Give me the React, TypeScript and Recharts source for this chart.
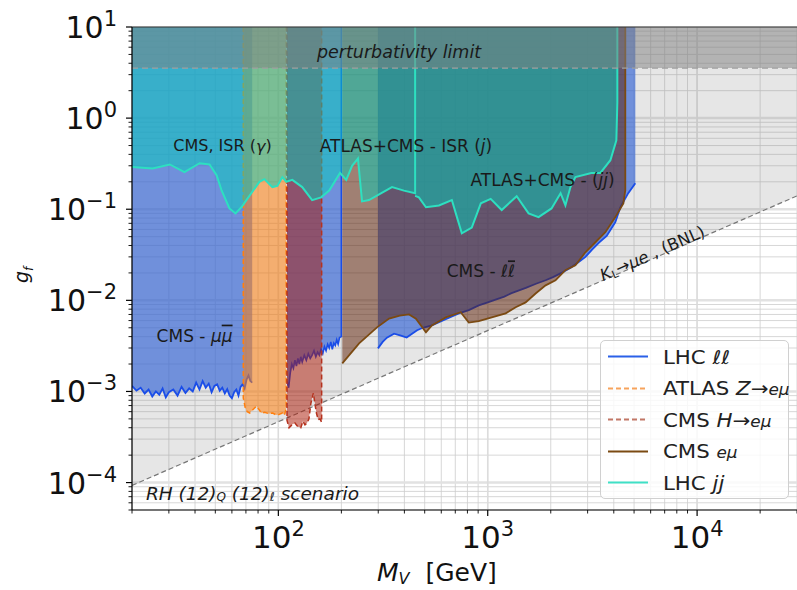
import React from 'react';
import {
  ComposedChart,
  Area,
  Line,
  XAxis,
  YAxis,
  CartesianGrid,
  ReferenceArea,
  ReferenceLine,
  ReferenceDot,
} from 'recharts';

const TOP = 10;
const PERT = 3.54;

const xTicks = [20, 30, 40, 50, 60, 70, 80, 90, 100, 200, 300, 400, 500, 600, 700, 800, 900, 1000, 2000, 3000, 4000, 5000, 6000, 7000, 8000, 9000, 10000, 20000, 30000];
const yTicks = [5e-5, 6e-5, 7e-5, 8e-5, 9e-5, 1e-4, 2e-4, 3e-4, 4e-4, 5e-4, 6e-4, 7e-4, 8e-4, 9e-4, 1e-3, 2e-3, 3e-3, 4e-3, 5e-3, 6e-3, 7e-3, 8e-3, 9e-3, 0.01, 0.02, 0.03, 0.04, 0.05, 0.06, 0.07, 0.08, 0.09, 0.1, 0.2, 0.3, 0.4, 0.5, 0.6, 0.7, 0.8, 0.9, 1, 2, 3, 4, 5, 6, 7, 8, 9, 10];
const majorX = [100, 1000, 10000];
const majorY = [1e-4, 1e-3, 1e-2, 0.1, 1];

// K_L -> mu e (BNL) line
const bnlMass = [20, 30000];
const bnlG = [9.3e-5, 0.14];

// LHC ll : CMS mu mu low mass
const muMass = [20, 21, 22, 23, 24, 25, 26, 27, 28, 29, 30, 31.5, 33, 34.5, 36, 37.5, 39, 40.5, 42, 43.5, 45, 46.5, 48, 49.5, 51, 52.5, 54, 55.5, 57, 58.5, 60, 61.5, 63, 64.5, 66, 67.5, 69, 70.5, 72, 73.5, 75];
const muG = [1.15e-3, 1.02e-3, 1.1e-3, 0.95e-3, 1.05e-3, 0.88e-3, 1.0e-3, 0.92e-3, 1.08e-3, 0.86e-3, 0.98e-3, 1.05e-3, 0.9e-3, 1.12e-3, 0.96e-3, 1.08e-3, 1.0e-3, 1.25e-3, 1.05e-3, 1.3e-3, 1.1e-3, 1.22e-3, 0.98e-3, 1.15e-3, 1.2e-3, 1.02e-3, 1.1e-3, 0.95e-3, 1.06e-3, 0.9e-3, 0.84e-3, 0.98e-3, 1.05e-3, 0.9e-3, 1.12e-3, 1.2e-3, 1.08e-3, 1.35e-3, 1.5e-3, 1.3e-3, 1.25e-3];

// LHC ll : intermediate mass
const midMass = [110, 112, 114, 116, 118, 120, 122, 124, 126, 128, 130, 133, 136, 139, 142, 145, 148, 151, 154, 157, 160, 163, 166, 169, 172, 175, 178, 181, 184, 187, 190, 193, 196, 200];
const midG = [1.3e-3, 1.1e-3, 1.6e-3, 2.0e-3, 1.8e-3, 2.2e-3, 1.9e-3, 2.3e-3, 2.0e-3, 2.4e-3, 2.1e-3, 2.5e-3, 2.2e-3, 2.6e-3, 2.3e-3, 2.5e-3, 2.8e-3, 2.4e-3, 2.7e-3, 2.5e-3, 2.9e-3, 2.6e-3, 3.1e-3, 2.8e-3, 3.3e-3, 3.0e-3, 3.5e-3, 2.9e-3, 3.4e-3, 3.2e-3, 3.7e-3, 3.3e-3, 3.9e-3, 4.0e-3];

// LHC ll : CMS ll high mass
const llMass = [299, 315, 330, 357, 385, 410, 435, 460, 490, 541, 630, 728, 812, 906, 1000, 1090, 1200, 1300, 1400, 1520, 1700, 1890, 2050, 2250, 2500, 2700, 2930, 3150, 3400, 3700, 4070, 4300, 4690, 5070];
const llG = [2.97e-3, 3.5e-3, 3.9e-3, 4.3e-3, 4.1e-3, 3.9e-3, 4.3e-3, 4.7e-3, 5.0e-3, 5.3e-3, 6.2e-3, 7.2e-3, 7.8e-3, 8.8e-3, 9.5e-3, 1.02e-2, 1.1e-2, 1.2e-2, 1.28e-2, 1.37e-2, 1.52e-2, 1.66e-2, 1.8e-2, 2.0e-2, 2.3e-2, 2.6e-2, 3.0e-2, 3.6e-2, 4.3e-2, 5.1e-2, 7.2e-2, 0.105, 0.15, 0.193];

// ATLAS Z -> e mu
const zMass = [68, 69.5, 71, 73, 75, 78.5, 81, 83, 86, 90, 94, 98, 101, 104.5, 107, 109];
const zG = [8.5e-4, 6.6e-4, 6.0e-4, 5.8e-4, 6.2e-4, 6.9e-4, 6.3e-4, 5.8e-4, 5.9e-4, 5.7e-4, 5.8e-4, 5.5e-4, 5.6e-4, 5.8e-4, 5.5e-4, 6.5e-4];

// CMS H -> e mu
const hMass = [110, 112.5, 116, 120, 124, 128, 131, 134, 137, 140, 143, 147, 150, 152, 155, 158, 161];
const hG = [4.8e-4, 4.0e-4, 4.3e-4, 4.5e-4, 4.1e-4, 4.0e-4, 4.7e-4, 4.3e-4, 4.5e-4, 5.0e-4, 7.4e-4, 9.6e-4, 7.0e-4, 5.8e-4, 4.9e-4, 5.0e-4, 4.6e-4];

// CMS e mu
const emuMass = [202, 243, 296, 338, 380, 421, 454, 507, 541, 631, 743, 812, 906, 1045, 1218, 1360, 1517, 1693, 1890, 2107, 2350, 2623, 2928, 3268, 3646, 4070, 4445, 4540];
const emuG = [2.03e-3, 3.37e-3, 5.05e-3, 6.3e-3, 6.8e-3, 7.0e-3, 6.3e-3, 4.45e-3, 5.3e-3, 6.5e-3, 7.4e-3, 5.7e-3, 5.9e-3, 6.5e-3, 7.2e-3, 8.4e-3, 9.5e-3, 1.19e-2, 1.46e-2, 1.66e-2, 2.14e-2, 2.43e-2, 3.37e-2, 4.34e-2, 5.6e-2, 8.2e-2, 0.116, 0.162];

// LHC jj : ISR (gamma, j)
const isrMass = [20, 25.1, 30.3, 35.6, 42.1, 46.9, 50.7, 53.5, 58.4, 62.4, 66.6, 70.4, 81.2, 85.8, 93.6, 98.9, 104.5, 109.2, 116.6, 130, 145, 160, 175, 197, 211, 225, 240, 251, 271, 349, 398, 450];
const isrG = [0.29, 0.28, 0.31, 0.255, 0.32, 0.31, 0.237, 0.162, 0.102, 0.09, 0.105, 0.126, 0.2, 0.214, 0.175, 0.18, 0.225, 0.2, 0.21, 0.175, 0.126, 0.135, 0.16, 0.25, 0.21, 0.3, 0.36, 0.122, 0.126, 0.175, 0.16, 0.15];

// LHC jj : dijet
const jjMass = [450, 469, 507, 585, 674, 704, 752, 839, 927, 1033, 1166, 1375, 1567, 1749, 2017, 2228, 2350, 2484, 2623, 3126, 3452, 3854, 4115, 4160];
const jjG = [0.14, 0.135, 0.105, 0.11, 0.126, 0.09, 0.0545, 0.063, 0.116, 0.13, 0.098, 0.139, 0.09, 0.082, 0.102, 0.15, 0.11, 0.175, 0.225, 0.25, 0.25, 0.345, 0.57, 1.5];

const COL = {
  blue: '#3d6bd5',
  blueLine: '#1a4de8',
  orange: '#ff7f0e',
  red: '#aa1400',
  redLine: '#b5321e',
  brown: '#5a1a00',
  brownLine: '#7b4a12',
  teal: '#00cdb9',
  tealLine: '#2de0c0',
};

const rows = (ms: number[], gs: number[]) => ms.map((m, i) => ({ m, g: gs[i] }));
const capped = (ms: number[], gs: number[], start: boolean, end: boolean) => [
  ...(start ? [{ m: ms[0], g: TOP }] : []),
  ...rows(ms, gs),
  ...(end ? [{ m: ms[ms.length - 1], g: TOP }] : []),
];

const isMajor = (v: number) => Math.abs(Math.log10(v) - Math.round(Math.log10(v))) < 1e-6;
const expText = (v: number) => {
  const e = Math.round(Math.log10(v));
  return e < 0 ? '\u2212' + Math.abs(e) : String(e);
};

function XTick(props: any) {
  const { x, y, payload } = props;
  const v = payload.value;
  const major = isMajor(v);
  return (
    <g>
      <line x1={x} x2={x} y1={y} y2={y + (major ? 6 : 3.5)} stroke="#000" strokeWidth={major ? 1.2 : 0.9} />
      {major && (
        <text x={x} y={y + 38} textAnchor="middle" fontSize={31} fill="#111" fontFamily="DejaVu Sans">
          10<tspan dy={-12} fontSize={21}>{expText(v)}</tspan>
        </text>
      )}
    </g>
  );
}

function YTick(props: any) {
  const { x, y, payload } = props;
  const v = payload.value;
  const major = isMajor(v);
  return (
    <g>
      <line x1={x - (major ? 6 : 3.5)} x2={x} y1={y} y2={y} stroke="#000" strokeWidth={major ? 1.2 : 0.9} />
      {major && (
        <text x={x - 15} y={y + 11} textAnchor="end" fontSize={30} fill="#111" fontFamily="DejaVu Sans">
          10<tspan dy={-12} fontSize={21}>{expText(v)}</tspan>
        </text>
      )}
    </g>
  );
}

const note = (m: number, g: number, key: string, body: React.ReactNode, extra: any = {}) => (
  <ReferenceDot
    key={key}
    x={m}
    y={g}
    r={0}
    fill="none"
    stroke="none"
    ifOverflow="visible"
    label={(p: any) => {
      const vb = p.viewBox || {};
      const cx = (vb.x ?? 0) + (vb.width ?? 0) / 2;
      const cy = (vb.y ?? 0) + (vb.height ?? 0) / 2;
      return (
        <text
          x={cx}
          y={cy}
          textAnchor="middle"
          dominantBaseline="central"
          fontFamily="DejaVu Sans"
          fontSize={17}
          fill="#1a1a1a"
          transform={extra.rotate ? `rotate(${extra.rotate} ${cx} ${cy})` : undefined}
          {...(extra.style || {})}
        >
          {body}
        </text>
      );
    }}
  />
);

const legendItems = [
  { color: '#2a60e8', dash: '', label: <>LHC <i>ℓℓ</i></> },
  { color: '#f7a35c', dash: '5 3', label: <>ATLAS <i>Z</i>→<i style={{ fontSize: 15 }}>eμ</i></> },
  { color: '#c27766', dash: '5 3', label: <>CMS <i>H</i>→<i style={{ fontSize: 15 }}>eμ</i></> },
  { color: '#7b4a12', dash: '', label: <>CMS <i style={{ fontSize: 15 }}>eμ</i></> },
  { color: '#3fe0c6', dash: '', label: <>LHC <i>jj</i></> },
];

const over = { textDecoration: 'overline' };

export default function App() {
  return (
    <div style={{ position: 'absolute', left: 0, top: 0, width: 797, height: 590, overflow: 'hidden', fontFamily: 'DejaVu Sans', background: '#fff' }}>
      <ComposedChart width={797} height={590} margin={{ top: 27, right: 0, bottom: 0, left: 8 }}>
        <CartesianGrid stroke="#cdcdcd" strokeWidth={0.8} zIndex={-100} />
        {majorY.map((v) => (
          <ReferenceLine key={'gy' + v} y={v} stroke="#e2e2e2" strokeWidth={2.5} zIndex={-60} />
        ))}
        {majorX.map((v) => (
          <ReferenceLine key={'gx' + v} x={v} stroke="#dcdcdc" strokeWidth={1.5} zIndex={-60} />
        ))}
        <XAxis
          dataKey="m"
          type="number"
          scale="log"
          domain={[20, 30000]}
          allowDataOverflow
          ticks={xTicks}
          interval={0}
          height={80}
          tickSize={0}
          tickMargin={0}
          tickLine={false}
          axisLine={{ stroke: '#000', strokeWidth: 1.2 }}
          tick={(p: any) => <XTick {...p} />}
        />
        <YAxis
          dataKey="g"
          type="number"
          scale="log"
          domain={[5e-5, 10]}
          allowDataOverflow
          ticks={yTicks}
          interval={0}
          width={124}
          tickSize={0}
          tickMargin={0}
          tickLine={false}
          axisLine={{ stroke: '#000', strokeWidth: 1.2 }}
          tick={(p: any) => <YTick {...p} />}
        />

        <Area zIndex={1} data={rows(bnlMass, bnlG)} dataKey="g" baseValue={TOP} type="linear" fill="#808080" fillOpacity={0.2} stroke="none" isAnimationActive={false} />
        <Line zIndex={2} data={rows(bnlMass, bnlG)} dataKey="g" type="linear" stroke="#777" strokeWidth={1.2} strokeDasharray="5 3" dot={false} activeDot={false} isAnimationActive={false} />

        <Area zIndex={10} data={rows(muMass, muG)} dataKey="g" baseValue={TOP} type="linear" fill={COL.blue} fillOpacity={0.7} stroke="none" isAnimationActive={false} />
        <Area zIndex={10} data={rows(midMass, midG)} dataKey="g" baseValue={TOP} type="linear" fill={COL.blue} fillOpacity={0.7} stroke="none" isAnimationActive={false} />
        <Area zIndex={10} data={rows(llMass, llG)} dataKey="g" baseValue={TOP} type="linear" fill={COL.blue} fillOpacity={0.7} stroke="none" isAnimationActive={false} />
        <Line zIndex={11} data={rows(muMass, muG)} dataKey="g" type="linear" stroke={COL.blueLine} strokeWidth={1.8} dot={false} activeDot={false} isAnimationActive={false} />
        <Line zIndex={11} data={capped(midMass, midG, false, true)} dataKey="g" type="linear" stroke={COL.blueLine} strokeWidth={1.6} dot={false} activeDot={false} isAnimationActive={false} />
        <Line zIndex={11} data={rows(llMass, llG)} dataKey="g" type="linear" stroke={COL.blueLine} strokeWidth={1.8} dot={false} activeDot={false} isAnimationActive={false} />

        <Area zIndex={20} data={rows(zMass, zG)} dataKey="g" baseValue={TOP} type="linear" fill={COL.orange} fillOpacity={0.55} stroke="none" isAnimationActive={false} />
        <Line zIndex={21} data={capped(zMass, zG, true, true)} dataKey="g" type="linear" stroke={COL.orange} strokeWidth={1.5} strokeDasharray="5 3" dot={false} activeDot={false} isAnimationActive={false} />

        <Area zIndex={30} data={rows(hMass, hG)} dataKey="g" baseValue={TOP} type="linear" fill={COL.red} fillOpacity={0.5} stroke="none" isAnimationActive={false} />
        <Line zIndex={31} data={capped(hMass, hG, true, true)} dataKey="g" type="linear" stroke={COL.redLine} strokeWidth={1.5} strokeDasharray="5 3" dot={false} activeDot={false} isAnimationActive={false} />

        <Area zIndex={40} data={rows(emuMass, emuG)} dataKey="g" baseValue={TOP} type="linear" fill={COL.brown} fillOpacity={0.5} stroke="none" isAnimationActive={false} />
        <Line zIndex={41} data={capped(emuMass, emuG, false, true)} dataKey="g" type="linear" stroke={COL.brownLine} strokeWidth={1.8} dot={false} activeDot={false} isAnimationActive={false} />

        <Area zIndex={50} data={rows(isrMass, isrG)} dataKey="g" baseValue={TOP} type="linear" fill={COL.teal} fillOpacity={0.5} stroke="none" isAnimationActive={false} />
        <Area zIndex={50} data={rows(jjMass, jjG)} dataKey="g" baseValue={TOP} type="linear" fill={COL.teal} fillOpacity={0.5} stroke="none" isAnimationActive={false} />
        <Line zIndex={51} data={capped(isrMass, isrG, false, true)} dataKey="g" type="linear" stroke={COL.tealLine} strokeWidth={2} dot={false} activeDot={false} isAnimationActive={false} />
        <Line zIndex={51} data={capped(jjMass, jjG, false, true)} dataKey="g" type="linear" stroke={COL.tealLine} strokeWidth={2} dot={false} activeDot={false} isAnimationActive={false} />

        <ReferenceArea zIndex={60} y1={PERT} y2={TOP} fill="#808080" fillOpacity={0.5} stroke="none" />
        <ReferenceLine zIndex={61} y={PERT} stroke="#a0a0a0" strokeWidth={1.3} strokeDasharray="6 4" />
        <ReferenceLine zIndex={62} y={TOP} stroke="#333" strokeWidth={1.2} />

        {note(377, 5.3, 'pert', 'perturbativity limit', { style: { fontStyle: 'italic', fontSize: 17.5 } })}
        {note(54.1, 0.5, 'isrg', <>CMS, ISR (<tspan fontStyle="italic">γ</tspan>)</>, { style: { fontSize: 16 } })}
        {note(407, 0.5, 'isrj', <>ATLAS+CMS - ISR (<tspan fontStyle="italic">j</tspan>)</>)}
        {note(1828, 0.208, 'dijet', <>ATLAS+CMS - (<tspan fontStyle="italic">jj</tspan>)</>)}
        {note(927, 0.0208, 'cmsll', <>CMS - <tspan fontStyle="italic">ℓ</tspan><tspan fontStyle="italic" style={over}>ℓ</tspan></>)}
        {note(39.8, 4.1e-3, 'cmsmm', <>CMS - <tspan fontStyle="italic">μ</tspan><tspan fontStyle="italic" style={over}>μ</tspan></>)}
        {note(6110, 0.0328, 'bnl', <><tspan fontStyle="italic">K</tspan><tspan fontSize={11} dy={4}>L</tspan><tspan dy={-4}>→</tspan><tspan fontStyle="italic">μe</tspan> , (BNL)</>, { rotate: -23.5, style: { fontSize: 16.5 } })}
        {note(75.2, 7.6e-5, 'rh', <>RH (12)<tspan fontSize={12} dy={4}>Q</tspan><tspan dy={-4}> (12)</tspan><tspan fontSize={12} dy={4}>ℓ</tspan><tspan dy={-4}> scenario</tspan></>, { style: { fontStyle: 'italic', fontSize: 18.5 } })}
      </ComposedChart>

      <div style={{ position: 'absolute', left: 377, top: 559, fontSize: 25, lineHeight: '28px', color: '#111', whiteSpace: 'pre' }}>
        <i>M</i><span style={{ fontSize: 16, fontStyle: 'italic', verticalAlign: '-0.2em' }}>V</span>{'  [GeV]'}
      </div>
      <div style={{ position: 'absolute', left: 12, top: 259, width: 24, height: 24, fontSize: 19, lineHeight: '19px', color: '#111', transform: 'rotate(-90deg)', transformOrigin: '12px 12px' }}>
        <i>g</i><sub style={{ fontSize: 12, fontStyle: 'italic' }}>f</sub>
      </div>

      <div style={{ position: 'absolute', left: 600, top: 340, width: 189, height: 159, border: '1px solid #d0d0d0', borderRadius: 5, background: 'rgba(255,255,255,0.82)', boxSizing: 'border-box' }}>
        {legendItems.map((it, i) => (
          <div key={i} style={{ position: 'absolute', left: 0, top: i * 31.5, height: 31, width: 189, display: 'flex', alignItems: 'center' }}>
            <svg width={60} height={31} style={{ flex: 'none' }}>
              <line x1={7} x2={47} y1={15.5} y2={15.5} stroke={it.color} strokeWidth={2} strokeDasharray={it.dash || undefined} />
            </svg>
            <span style={{ fontSize: 19, color: '#222', marginLeft: 2, whiteSpace: 'nowrap', display: 'inline-block', transform: 'scaleX(1.12)', transformOrigin: 'left center' }}>{it.label}</span>
          </div>
        ))}
      </div>
    </div>
  );
}
